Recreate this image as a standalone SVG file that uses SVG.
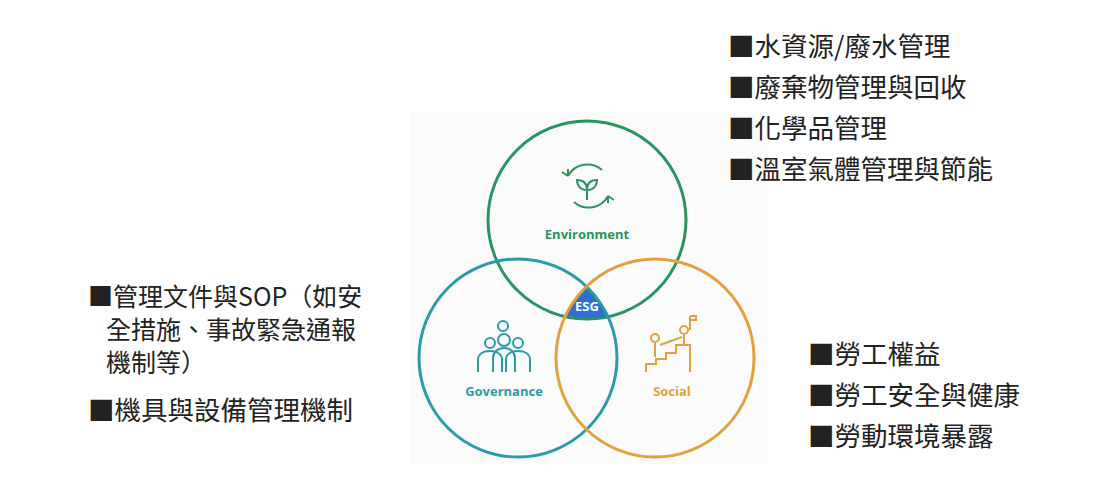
<svg xmlns="http://www.w3.org/2000/svg" width="1100" height="497" viewBox="0 0 1100 497">
<style>
.t{font-family:"Noto Sans CJK TC","Noto Sans",sans-serif;font-size:26.5px;fill:#222}
.s{font-size:25px}
.lb{font-family:"Open Sans","Noto Sans",sans-serif;font-size:13px;font-weight:bold;text-anchor:middle}
.c{fill:none;stroke-width:3}
.ic{fill:none;stroke-width:2}
</style>
<defs>
<clipPath id="cg"><circle cx="518" cy="358" r="99"/></clipPath>
<clipPath id="cs"><circle cx="655" cy="358" r="99"/></clipPath>
</defs>
<rect width="1100" height="497" fill="#fff"/>
<rect x="410" y="112" width="358" height="352" fill="#fbfbfb"/>
<g id="esg">
<g clip-path="url(#cg)"><circle cx="587" cy="220" r="99" fill="#2f6fd1" clip-path="url(#cs)"/></g>
<text class="lb" x="587" y="311" fill="#fff">ESG</text>
</g>
<g id="environment">
<circle class="c" cx="587" cy="220" r="99" stroke="#2a9460"/>
<g class="ic" stroke="#2a9460">
<path d="M568 176a22 22 0 0 1 34 -6"/><path d="M568 176l-6 -4M568 176l0 -7"/>
<path d="M608 196a22 22 0 0 1 -34 6"/><path d="M608 196l6 4M608 196l0 7"/>
<path d="M587 200v-10M587 190c-8 0-10-6-10-10c6 0 10 3 10 10c0-7 4-10 10-10c0 4-2 10-10 10"/>
</g>
<text class="lb" x="587" y="239" fill="#2a9460">Environment</text>
</g>
<g id="governance">
<circle class="c" cx="518" cy="358" r="99" stroke="#2a9ca8"/>
<g class="ic" stroke="#2a9ca8">
<circle cx="503" cy="326" r="5"/>
<circle cx="490" cy="343" r="5"/><circle cx="504" cy="340" r="6"/><circle cx="518" cy="343" r="5"/>
<path d="M478 372v-12c0-6 5-9 12-9s12 3 12 9v12M493 372v-14c0-6 5-10 11-10s11 4 11 10v14M506 372v-12c0-6 5-9 12-9s12 3 12 9v12"/>
</g>
<text class="lb" x="504" y="396" fill="#2a9ca8">Governance</text>
</g>
<g id="social">
<circle class="c" cx="655" cy="358" r="99" stroke="#e2a13e"/>
<g class="ic" stroke="#e2a13e">
<path d="M646 372v-8h10v-5h10v-6h10v-8h14v27"/>
<circle cx="655" cy="338" r="4"/><circle cx="684" cy="330" r="4"/>
<path d="M655 343v14M660 345l22-8M684 335v10M690 316v14M690 316h6v4h-6"/>
</g>
<text class="lb" x="672" y="396" fill="#e2a13e">Social</text>
</g>
<g id="lists">
<text class="t" x="728" y="56">■水資源/廢水管理</text>
<text class="t" x="728" y="97">■廢棄物管理與回收</text>
<text class="t" x="728" y="138">■化學品管理</text>
<text class="t" x="728" y="179">■溫室氣體管理與節能</text>
<text class="t s" x="88" y="306">■管理文件與SOP（如安</text>
<text class="t s" x="106" y="339">全措施、事故緊急通報</text>
<text class="t s" x="106" y="372">機制等）</text>
<text class="t" x="88" y="420">■機具與設備管理機制</text>
<text class="t" x="808" y="364">■勞工權益</text>
<text class="t" x="808" y="405">■勞工安全與健康</text>
<text class="t" x="808" y="446">■勞動環境暴露</text>
</g>
</svg>
